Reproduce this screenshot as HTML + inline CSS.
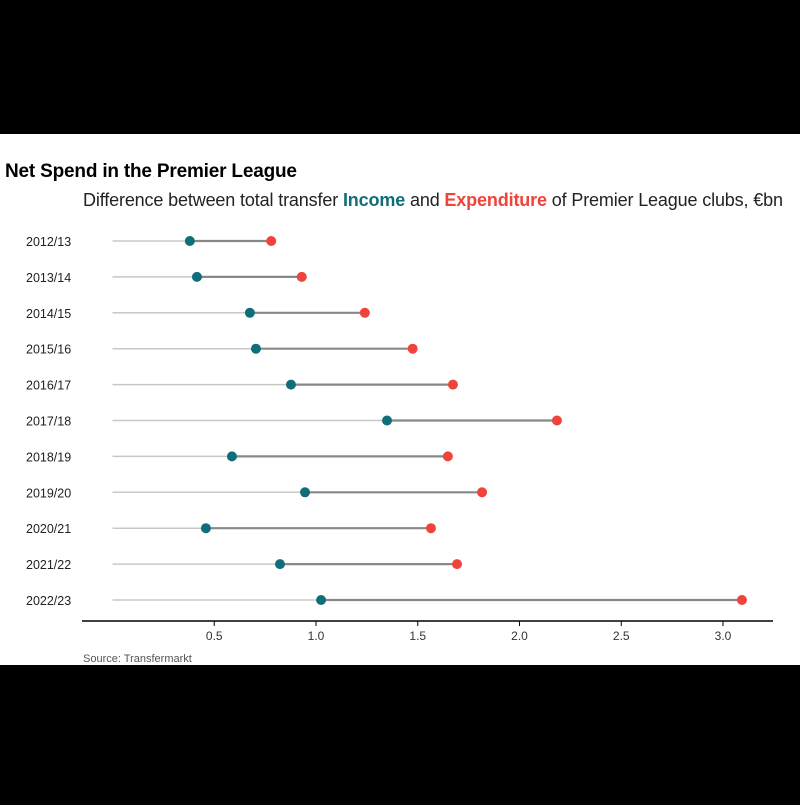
<!DOCTYPE html>
<html><head><meta charset="utf-8"><style>
body{margin:0;background:#000;width:800px;height:800px;overflow:hidden;font-family:"Liberation Sans",sans-serif}
</style></head><body>
<svg width="800" height="800">
<rect x="0" y="134" width="800" height="531" fill="#fff"/>
<text x="5" y="177" font-size="19" font-weight="bold" fill="#000" textLength="292">Net Spend in the Premier League</text>
<text x="83" y="206" font-size="18" fill="#222" textLength="700">Difference between total transfer <tspan font-weight="bold" fill="#0f6e7a">Income</tspan> and <tspan font-weight="bold" fill="#f0433a">Expenditure</tspan> of Premier League clubs, €bn</text>
<g id="plot"></g>
<text x="83" y="662" font-size="11" fill="#555">Source: Transfermarkt</text>
</svg>
<script>
const seasons=["2012/13","2013/14","2014/15","2015/16","2016/17","2017/18","2018/19","2019/20","2020/21","2021/22","2022/23"];
const income=[0.38,0.415,0.675,0.705,0.877,1.349,0.587,0.946,0.459,0.823,1.025];
const expenditure=[0.78,0.93,1.24,1.475,1.673,2.184,1.648,1.816,1.565,1.693,3.093];
const ticks=[0.5,1.0,1.5,2.0,2.5,3.0];
const tickLabels=["0.5","1.0","1.5","2.0","2.5","3.0"];
const NS="http://www.w3.org/2000/svg";
const g=document.getElementById('plot');
const x=v=>112.5+v*203.5;
const y=i=>241+i*35.9;
function mk(t,a){const e=document.createElementNS(NS,t);for(const k in a)e.setAttribute(k,a[k]);g.appendChild(e);return e;}
const ax=mk('line',{x1:82,x2:773,y1:621,y2:621,stroke:'#000','stroke-width':1.5});


ticks.forEach((t,i)=>{
  const tk=mk('line',{x1:x(t),x2:x(t),y1:621,y2:626,stroke:'#000'});
  
  
  const tl=mk('text',{x:x(t),y:640,'font-size':12,fill:'#333','text-anchor':'middle'});
  tl.textContent=tickLabels[i];
  
  
});
seasons.forEach((s,i)=>{
  const lb=mk('text',{x:26,y:y(i)+5,'font-size':12.5,fill:'#222'});
  lb.textContent=s;
  
  
  const l1=mk('line',{x1:x(0),x2:x(income[i]),y1:y(i),y2:y(i),stroke:'#c8c8c8','stroke-width':1.5});
  
  
  const l2=mk('line',{x1:x(income[i]),x2:x(expenditure[i]),y1:y(i),y2:y(i),stroke:'#888','stroke-width':2.2});
  
  
  const c1=mk('circle',{cx:x(income[i]),cy:y(i),r:5,fill:'#0f6e7a'});
  
  
  const c2=mk('circle',{cx:x(expenditure[i]),cy:y(i),r:5,fill:'#f0433a'});
  
  
});
</script>
</body></html>
